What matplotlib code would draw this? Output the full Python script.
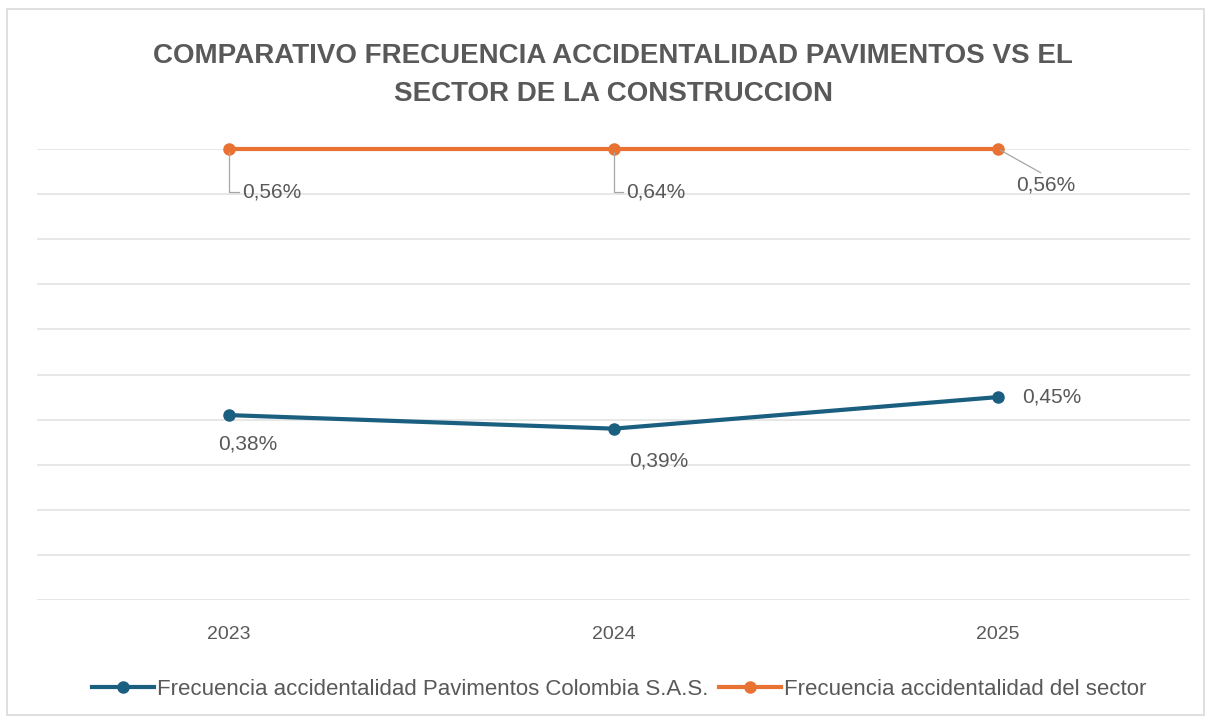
import matplotlib
matplotlib.use("Agg")
import matplotlib.pyplot as plt
from matplotlib.patches import Rectangle

plt.rcParams["font.family"] = ["Liberation Sans", "DejaVu Sans"]

# data (plotted positions, in %, and the printed labels)
years = ["2023", "2024", "2025"]
pavimentos = [0.41, 0.38, 0.45]
sector = [1.0, 1.0, 1.0]
pavimentos_labels = ["0,38%", "0,39%", "0,45%"]
sector_labels = ["0,56%", "0,64%", "0,56%"]

BLUE = "#1a5e80"
ORANGE = "#e97132"
TEXT = "#595959"
GRID = "#e3e3e3"

fig = plt.figure(figsize=(12.14, 7.23), dpi=100)
ax = fig.add_axes([0.0305, 0.170, 0.950, 0.624])

x = list(range(len(years)))
ax.plot(x, pavimentos, color=BLUE, lw=3, marker="o", ms=8, clip_on=False,
        label="Frecuencia accidentalidad Pavimentos Colombia S.A.S.", zorder=3)
ax.plot(x, sector, color=ORANGE, lw=3, marker="o", ms=8, clip_on=False,
        label="Frecuencia accidentalidad del sector", zorder=3)

ax.set_xlim(-0.5, 2.5)
ax.set_ylim(0, 1.0)
ax.set_yticks([i / 10 for i in range(11)])
ax.yaxis.grid(True, color=GRID, lw=1.2)
ax.set_axisbelow(True)
ax.tick_params(axis="y", left=False, labelleft=False)
ax.tick_params(axis="x", length=0, pad=19, labelsize=14, colors=TEXT)
ax.set_xticks(x)
ax.set_xticklabels(years)
for s in ax.spines.values():
    s.set_visible(False)

lbl = dict(fontsize=15, color=TEXT)

# blue data labels
ax.annotate(pavimentos_labels[0], (x[0], pavimentos[0]), xytext=(-8, -21),
            textcoords="offset points", ha="left", va="center", **lbl)
ax.annotate(pavimentos_labels[1], (x[1], pavimentos[1]), xytext=(11, -23),
            textcoords="offset points", ha="left", va="center", **lbl)
ax.annotate(pavimentos_labels[2], (x[2], pavimentos[2]), xytext=(17, 0),
            textcoords="offset points", ha="left", va="center", **lbl)

# orange data labels with leader lines
leader = dict(arrowstyle="-", color="#a6a6a6", lw=0.9, shrinkA=0, shrinkB=2)
for i in range(2):
    ax.annotate(sector_labels[i], (x[i], sector[i]), xytext=(9, -31),
                textcoords="offset points", ha="left", va="center",
                arrowprops=dict(leader, connectionstyle="angle,angleA=0,angleB=90,rad=0"),
                annotation_clip=False, **lbl)
ax.annotate(sector_labels[2], (x[2], sector[2]), xytext=(13, -26),
            textcoords="offset points", ha="left", va="center",
            arrowprops=dict(leader, relpos=(0.5, 1.0)),
            annotation_clip=False, **lbl)

fig.text(0.505, 0.896, "COMPARATIVO FRECUENCIA ACCIDENTALIDAD PAVIMENTOS VS EL\nSECTOR DE LA CONSTRUCCION",
         ha="center", va="center", fontsize=20, fontweight="bold", color=TEXT, linespacing=1.62)

fig.legend(loc="center", bbox_to_anchor=(0.51, 0.046), ncol=2, frameon=False,
           fontsize=16, labelcolor=TEXT, handlelength=2.8, handletextpad=0.1,
           columnspacing=0.5)

fig.patches.append(Rectangle((0.006, 0.011), 0.986, 0.977, transform=fig.transFigure,
                             fill=False, edgecolor="#d9d9d9", lw=1.2))

fig.savefig("out.png", dpi=100)
